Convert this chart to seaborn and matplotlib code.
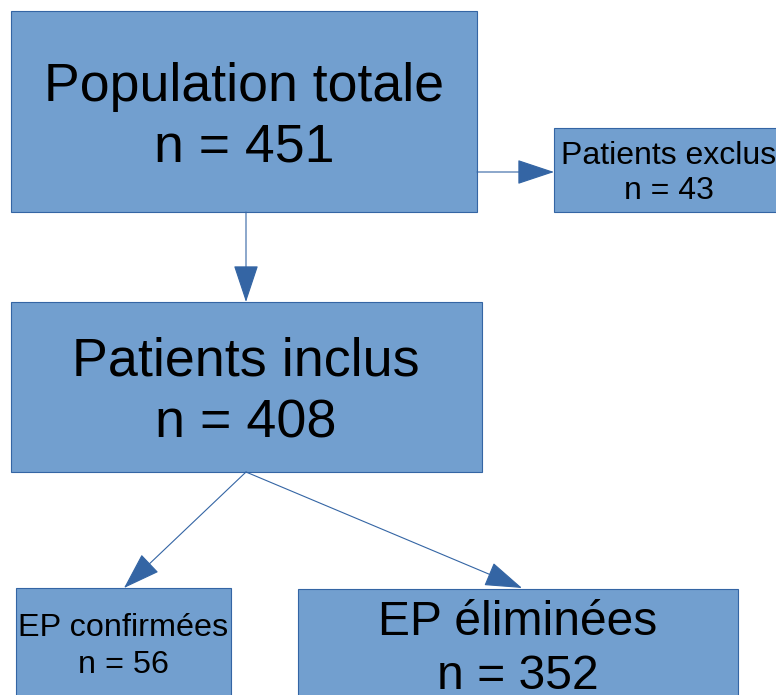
import matplotlib
matplotlib.use("Agg")
import matplotlib.pyplot as plt
import seaborn as sns
from matplotlib.patches import Rectangle, FancyArrowPatch, ArrowStyle

# ---- data ----
labels = ["Population totale", "Patients exclus", "Patients inclus", "EP confirmées", "EP éliminées"]
counts = [451, 43, 408, 56, 352]
links = [(0, 1), (0, 2), (2, 3), (2, 4)]

# ---- layout (pixel coordinates, y downward) ----
boxes = [  # x0, y0, x1, y1
    (11, 11, 477, 212),
    (554, 128, 790, 212),
    (11, 302, 482, 472),
    (16, 588, 231, 720),
    (298, 589, 738, 720),
]
baselines = [(101, 162), (164, 199), (376, 437), (636, 673), (635, 689)]
fsizes = [38.6, 23, 38.8, 23.3, 34.6]
text_cx = [244, 669, 246, 123, 518]
arrows = [((477, 172), (554, 172)), ((246, 212), (246, 302)),
          ((246, 472), (124, 588)), ((246, 472), (522, 588))]

sns.set_theme(style="white")
plt.rcParams['font.family'] = ['Liberation Sans', 'DejaVu Sans']

fill = "#729fcf"
edge = "#3465a4"

fig = plt.figure(figsize=(7.76, 6.95), dpi=100)
ax = fig.add_axes([0, 0, 1, 1])
ax.set_xlim(0, 776)
ax.set_ylim(695, 0)
ax.axis("off")

for i, (lab, n) in enumerate(zip(labels, counts)):
    x0, y0, x1, y1 = boxes[i]
    ax.add_patch(Rectangle((x0, y0), x1 - x0, y1 - y0, facecolor=fill,
                           edgecolor=edge, linewidth=0.8, zorder=1))
    b1, b2 = baselines[i]
    ax.text(text_cx[i], b1, lab, ha="center", va="baseline",
            fontsize=fsizes[i], color="black", zorder=3)
    ax.text(text_cx[i], b2, f"n = {n}", ha="center", va="baseline",
            fontsize=fsizes[i], color="black", zorder=3)

style = ArrowStyle("-|>", head_length=24, head_width=8)
for (a, b) in arrows:
    ax.add_patch(FancyArrowPatch(a, b, arrowstyle=style, mutation_scale=1,
                                 color=edge, linewidth=0.8,
                                 shrinkA=0, shrinkB=0, zorder=2))

fig.savefig("out.png", dpi=100)
